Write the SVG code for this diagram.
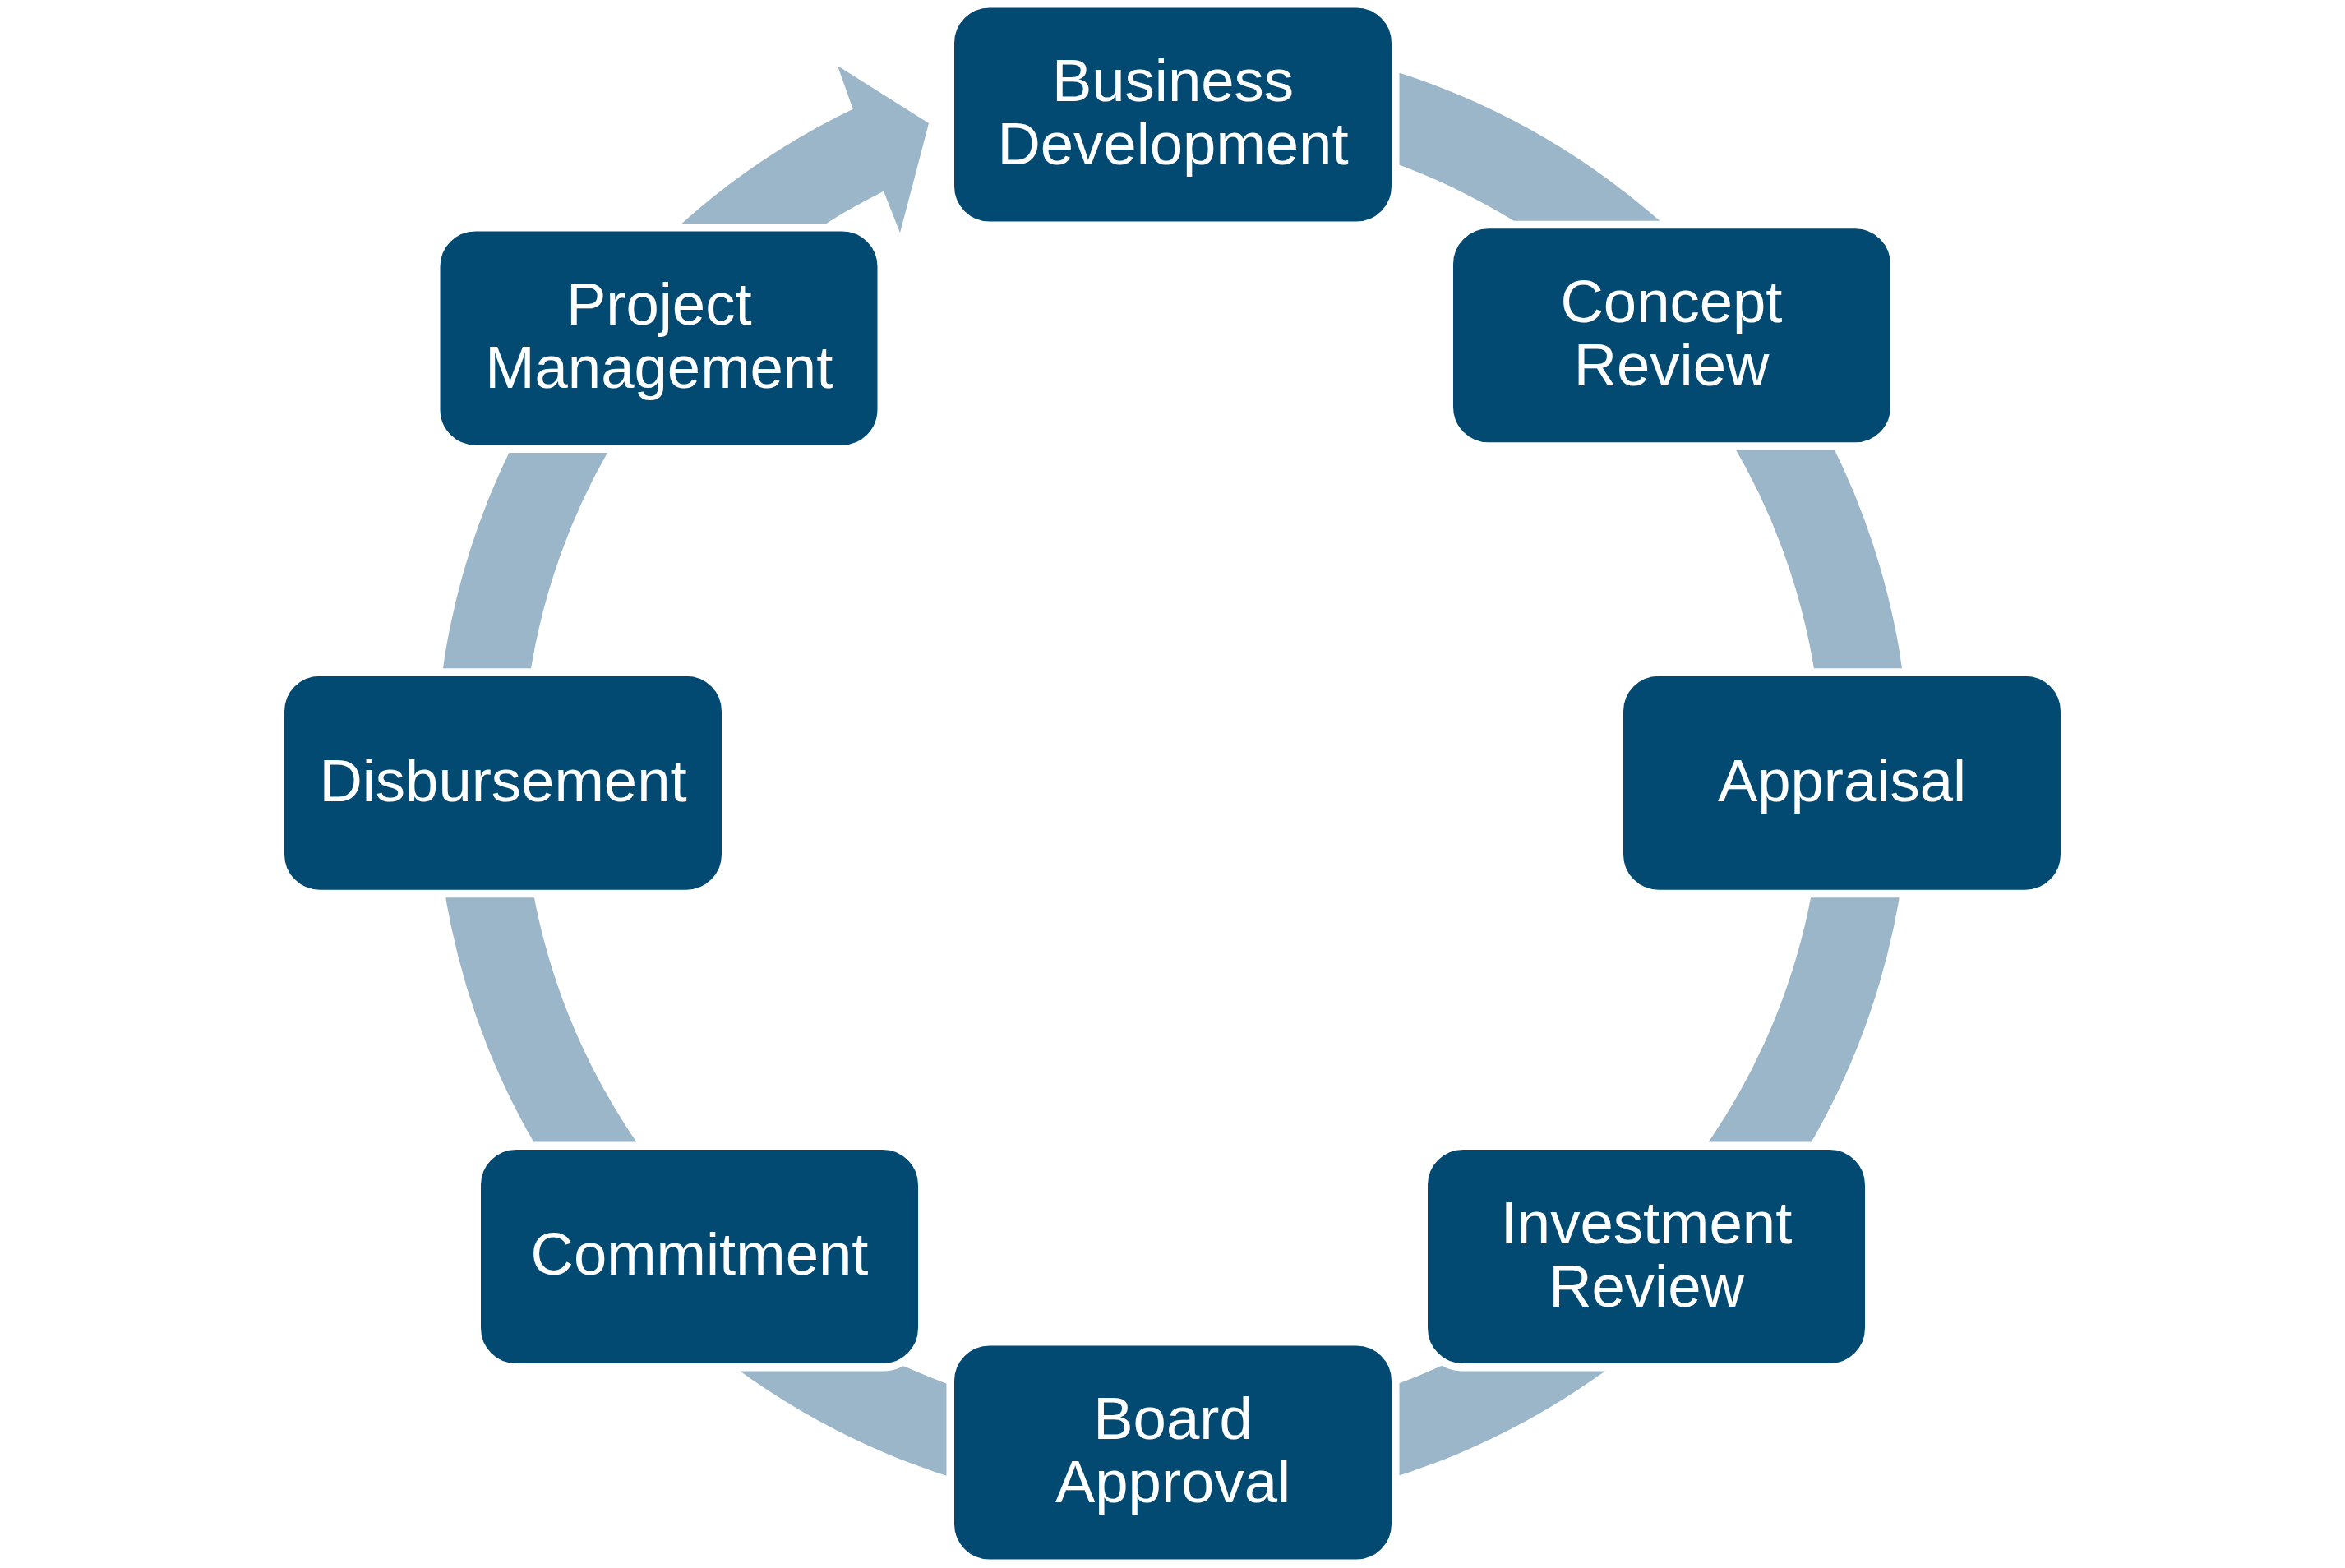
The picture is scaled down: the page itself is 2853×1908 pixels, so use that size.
<svg xmlns="http://www.w3.org/2000/svg" width="2853" height="1908" viewBox="0 0 2853 1908">
<style>
.arc{fill:#9BB6C8;stroke:none}
.box{fill:#024A72;stroke:#FFFFFF;stroke-width:9.5}
.lbl{fill:#FFFFFF;font-family:"Liberation Sans",Arial,sans-serif;font-size:72.5px;text-anchor:middle}
</style>
<rect x="0" y="0" width="2853" height="1908" fill="#FFFFFF"/>
<g id="connectors">
<path class="arc" d="M1426.5,45 A897,897 0 0 1 2100.4,350 L2020.7,419.9 A791,791 0 0 0 1426.5,151 Z"/>
<path class="arc" d="M2100.4,350 A897,897 0 0 1 2323.4,953.7 L2217.4,952.4 A791,791 0 0 0 2020.7,419.9 Z"/>
<path class="arc" d="M2323.4,953.7 A897,897 0 0 1 2055.2,1581.8 L1980.9,1506.2 A791,791 0 0 0 2217.4,952.4 Z"/>
<path class="arc" d="M2055.2,1581.8 A897,897 0 0 1 1426.5,1839 L1426.5,1733 A791,791 0 0 0 1980.9,1506.2 Z"/>
<path class="arc" d="M1426.5,1839 A897,897 0 0 1 797.8,1581.8 L872.1,1506.2 A791,791 0 0 0 1426.5,1733 Z"/>
<path class="arc" d="M797.8,1581.8 A897,897 0 0 1 529.6,953.7 L635.6,952.4 A791,791 0 0 0 872.1,1506.2 Z"/>
<path class="arc" d="M529.6,953.7 A897,897 0 0 1 742.4,361.8 L823.2,430.4 A791,791 0 0 0 635.6,952.4 Z"/>
<path class="arc" d="M742.4,361.8 A897,897 0 0 1 1037.7,132.7 L1019,80 L1130,150 L1095,283.3 L1075,232.7 A791,791 0 0 0 823.2,430.4 Z"/>
</g>
<g id="node-business-development">
<rect class="box" x="1156.25" y="4.75" width="541.5" height="269.5" rx="47.75" ry="47.75"/>
<text class="lbl" x="1427" y="123">Business</text>
<text class="lbl" x="1427" y="200">Development</text>
</g>
<g id="node-concept-review">
<rect class="box" x="1763.25" y="273.55" width="541.5" height="269.5" rx="47.75" ry="47.75"/>
<text class="lbl" x="2033.5" y="391.8">Concept</text>
<text class="lbl" x="2033.5" y="468.8">Review</text>
</g>
<g id="node-appraisal">
<rect class="box" x="1970.25" y="817.95" width="541.5" height="269.5" rx="47.75" ry="47.75"/>
<text class="lbl" x="2241" y="975">Appraisal</text>
</g>
<g id="node-investment-review">
<rect class="box" x="1732.25" y="1394.25" width="541.5" height="269.5" rx="47.75" ry="47.75"/>
<text class="lbl" x="2003" y="1512.5">Investment</text>
<text class="lbl" x="2003" y="1589.5">Review</text>
</g>
<g id="node-board-approval">
<rect class="box" x="1156.25" y="1632.75" width="541.5" height="269.5" rx="47.75" ry="47.75"/>
<text class="lbl" x="1427" y="1751">Board</text>
<text class="lbl" x="1427" y="1828">Approval</text>
</g>
<g id="node-commitment">
<rect class="box" x="580.25" y="1394.25" width="541.5" height="269.5" rx="47.75" ry="47.75"/>
<text class="lbl" x="851" y="1551">Commitment</text>
</g>
<g id="node-disbursement">
<rect class="box" x="341.25" y="817.95" width="541.5" height="269.5" rx="47.75" ry="47.75"/>
<text class="lbl" x="612" y="975">Disbursement</text>
</g>
<g id="node-project-management">
<rect class="box" x="530.75" y="276.75" width="541.5" height="269.5" rx="47.75" ry="47.75"/>
<text class="lbl" x="801.75" y="395">Project</text>
<text class="lbl" x="801.75" y="472">Management</text>
</g>
</svg>
